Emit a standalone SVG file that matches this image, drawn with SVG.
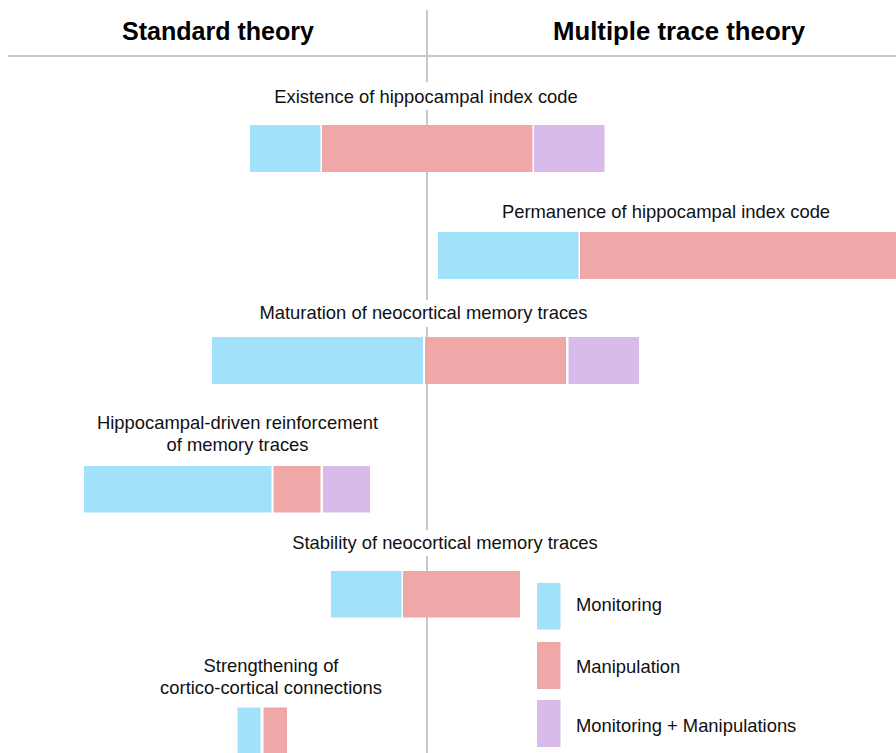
<svg xmlns="http://www.w3.org/2000/svg" width="896" height="753" viewBox="0 0 896 753">
<style>
.rule{stroke:#c8c8c8;stroke-width:2;fill:none}
.hdr{font-family:"Liberation Sans",Arial,sans-serif;font-weight:bold;font-size:25px;fill:#000;text-anchor:middle}
.lbl{font-family:"Liberation Sans",Arial,sans-serif;font-size:18.4px;fill:#111;text-anchor:middle}
.leg{font-family:"Liberation Sans",Arial,sans-serif;font-size:18.4px;fill:#111}
.mon{fill:#a1e2fa}
.man{fill:#f0a7a7}
.mm{fill:#d9bbeb}
.bg{fill:#fff}
</style>
<rect width="896" height="753" fill="#fff"/>
<g id="axes">
<line class="rule" x1="427" y1="10" x2="427" y2="753"/>
<line class="rule" x1="8" y1="56" x2="896" y2="56"/>
</g>
<g id="header-standard"><text class="hdr" x="218" y="40" textLength="192" lengthAdjust="spacingAndGlyphs">Standard  theory</text></g>
<g id="header-multiple"><text class="hdr" x="679" y="40" textLength="252" lengthAdjust="spacingAndGlyphs">Multiple  trace  theory</text></g>

<g id="existence">
<rect class="bg" x="268" y="82" width="316" height="28"/>
<text class="lbl" x="426" y="102.5">Existence of hippocampal index code</text>
<rect class="mon" x="250" y="125" width="70.5" height="47"/>
<rect class="man" x="322" y="125" width="210.5" height="47"/>
<rect class="mm" x="534" y="125" width="70.5" height="47"/>
</g>

<g id="permanence">
<text class="lbl" x="666" y="217.5">Permanence of hippocampal index code</text>
<rect class="mon" x="438" y="232" width="140.5" height="47"/>
<rect class="man" x="580" y="232" width="316" height="47"/>
</g>

<g id="maturation">
<rect class="bg" x="254" y="300" width="340" height="27"/>
<text class="lbl" x="423.5" y="318.5">Maturation of neocortical memory traces</text>
<rect class="mon" x="212" y="337" width="211" height="47"/>
<rect class="man" x="425" y="337" width="141" height="47"/>
<rect class="mm" x="568.5" y="337" width="70.5" height="47"/>
</g>

<g id="reinforcement">
<text class="lbl" x="237.5" y="428.5">Hippocampal-driven reinforcement</text>
<text class="lbl" x="237.5" y="450.5">of memory traces</text>
<rect class="mon" x="84" y="466" width="187.5" height="46.5"/>
<rect class="man" x="273.5" y="466" width="47" height="46.5"/>
<rect class="mm" x="323" y="466" width="47" height="46.5"/>
</g>

<g id="stability">
<rect class="bg" x="288" y="530" width="316" height="26"/>
<text class="lbl" x="445" y="548.5">Stability of neocortical memory traces</text>
<rect class="mon" x="331" y="571" width="70.5" height="46.5"/>
<rect class="man" x="403" y="571" width="117" height="46.5"/>
</g>

<g id="strengthening">
<text class="lbl" x="271" y="672">Strengthening of</text>
<text class="lbl" x="271" y="693.5">cortico-cortical connections</text>
<rect class="mon" x="237.5" y="707.5" width="23" height="45.5"/>
<rect class="man" x="263.5" y="707.5" width="23.5" height="45.5"/>
</g>

<g id="legend-monitoring">
<rect class="mon" x="537" y="583" width="23.5" height="46.5"/>
<text class="leg" x="576" y="611">Monitoring</text>
</g>
<g id="legend-manipulation">
<rect class="man" x="537" y="642" width="23.5" height="47"/>
<text class="leg" x="576" y="673">Manipulation</text>
</g>
<g id="legend-both">
<rect class="mm" x="537" y="700" width="23.5" height="47"/>
<text class="leg" x="576" y="732">Monitoring + Manipulations</text>
</g>
</svg>
